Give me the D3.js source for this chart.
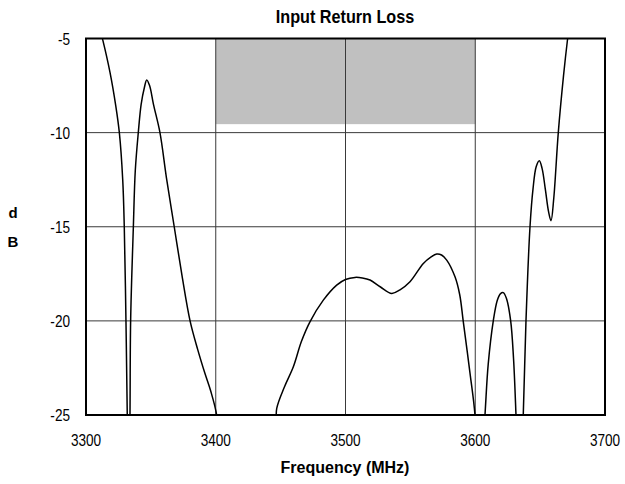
<!DOCTYPE html>
<html>
<head>
<meta charset="utf-8">
<script src="https://cdn.jsdelivr.net/npm/d3@7"></script>
<style>
body { margin: 0; background: #fff; }
text { font-family: "Liberation Sans", Arial, sans-serif; }
</style>
</head>
<body>
<div class="chart"></div>
<script>
// frequency (MHz) and return loss (dB)
var freq = [3308, 3313, 3318.5, 3323, 3325.7, 3328.3, 3329.5, 3330.8, 3331.8, 3333, 3333.9, 3334.4, 3336.5, 3338, 3340.3, 3342.5, 3345, 3346.8, 3349, 3352, 3357, 3362, 3368, 3374, 3380.2, 3386, 3391.7, 3396, 3400.7, 3403,
    3444, 3446.5, 3447, 3453, 3459.8, 3466, 3472.6, 3482.9, 3493.2, 3500, 3507.3, 3513, 3518.9, 3527, 3535.6, 3542, 3549.7, 3560, 3566, 3570.3, 3574, 3578, 3584.4, 3588, 3590.8, 3596, 3599.8,
    3603, 3607.5, 3610, 3613.9, 3617, 3619.5, 3621.6, 3624, 3627.3, 3629.5, 3631.4, 3634, 3637, 3639.1, 3642.2, 3644.5, 3647, 3649.4, 3651.5, 3654, 3656.5, 3658.4, 3660.5, 3664, 3668, 3671.2, 3674]
var dB = [-3.8, -5.1, -6.8, -8.6, -10, -12.5, -15, -20, -25, -30, -25, -20, -15, -12, -10, -8.5, -7.6, -7.2, -7.5, -8.5, -10, -12.4, -15, -17.6, -20, -21.5, -22.8, -23.7, -25, -27,
    -27, -25.5, -24.65, -23.5, -22.44, -21.1, -20.05, -18.9, -18.1, -17.8, -17.69, -17.72, -17.83, -18.2, -18.54, -18.35, -17.92, -16.95, -16.6, -16.45, -16.5, -16.77, -17.66, -18.6, -20.05, -22.8, -25,
    -30, -25, -22.3, -20, -18.9, -18.55, -18.5, -18.8, -20, -22, -25, -30, -25, -20, -15, -13, -11.8, -11.49, -11.9, -13, -14.2, -14.68, -13.5, -10, -7, -5, -3.5]

var yTicks = [-5, -10, -15, -20, -25]
var xTicks = [3300, 3400, 3500, 3600, 3700]
var band = [3400, 3600]
var bandLimit = -9.55

var width = 625, height = 484
var plotL = 86, plotR = 605, plotT = 38.5, plotB = 415

var svg = d3.select(".chart").append("svg").attr("width", width).attr("height", height)

var x = d3.scaleLinear().domain([3300, 3700]).range([plotL, plotR])
var y = d3.scaleLinear().domain([-5, -25]).range([plotT, plotB])

// shaded spec region
svg.append("rect")
    .attr("x", x(band[0])).attr("y", y(-5))
    .attr("width", x(band[1]) - x(band[0]))
    .attr("height", y(bandLimit) - y(-5))
    .attr("fill", "#c0c0c0")

// grid
svg.append("g").selectAll("line").data(yTicks).enter().append("line")
    .attr("x1", plotL).attr("x2", plotR)
    .attr("y1", function(d){ return y(d) }).attr("y2", function(d){ return y(d) })
    .attr("stroke", "#3a3a3a").attr("stroke-width", 1)
svg.append("g").selectAll("line").data(xTicks).enter().append("line")
    .attr("y1", plotT).attr("y2", plotB)
    .attr("x1", function(d){ return x(d) }).attr("x2", function(d){ return x(d) })
    .attr("stroke", "#3a3a3a").attr("stroke-width", 1)

// curve
svg.append("clipPath").attr("id", "clip").append("rect")
    .attr("x", plotL).attr("y", plotT).attr("width", plotR - plotL).attr("height", plotB - plotT)

var line = d3.line()
    .x(function(d){ return x(d[0]) })
    .y(function(d){ return y(d[1]) })
    .curve(d3.curveCatmullRom.alpha(0.5))

svg.append("path")
    .datum(d3.zip(freq, dB))
    .attr("clip-path", "url(#clip)")
    .attr("d", line)
    .attr("fill", "none").attr("stroke", "#000").attr("stroke-width", 1.5)

// frame
svg.append("rect")
    .attr("x", plotL).attr("y", plotT).attr("width", plotR - plotL).attr("height", plotB - plotT)
    .attr("fill", "none").attr("stroke", "#000").attr("stroke-width", 2)

// tick labels (narrow look: horizontally squeezed)
svg.append("g").selectAll("text").data(yTicks).enter().append("text")
    .attr("transform", function(d){ return "translate(" + (plotL - 16) + "," + (y(d) + 6) + ") scale(0.8,1)" })
    .attr("text-anchor", "end").attr("font-size", "17px")
    .text(function(d){ return d })
svg.append("g").selectAll("text").data(xTicks).enter().append("text")
    .attr("transform", function(d){ return "translate(" + x(d) + "," + (plotB + 31) + ") scale(0.8,1)" })
    .attr("text-anchor", "middle").attr("font-size", "17px")
    .text(function(d){ return d })

// titles
svg.append("text").attr("x", 345).attr("y", 23)
    .attr("text-anchor", "middle").attr("font-size", "18px").attr("font-weight", "bold")
    .attr("transform", "translate(345,0) scale(0.9,1) translate(-345,0)")
    .text("Input Return Loss")
svg.append("text").attr("x", 345).attr("y", 473)
    .attr("text-anchor", "middle").attr("font-size", "16px").attr("font-weight", "bold")
    .text("Frequency (MHz)")
svg.append("text").attr("x", 13).attr("y", 218)
    .attr("text-anchor", "middle").attr("font-size", "15px").attr("font-weight", "bold")
    .text("d")
svg.append("text").attr("x", 13).attr("y", 247)
    .attr("text-anchor", "middle").attr("font-size", "15px").attr("font-weight", "bold")
    .text("B")
</script>
</body>
</html>
